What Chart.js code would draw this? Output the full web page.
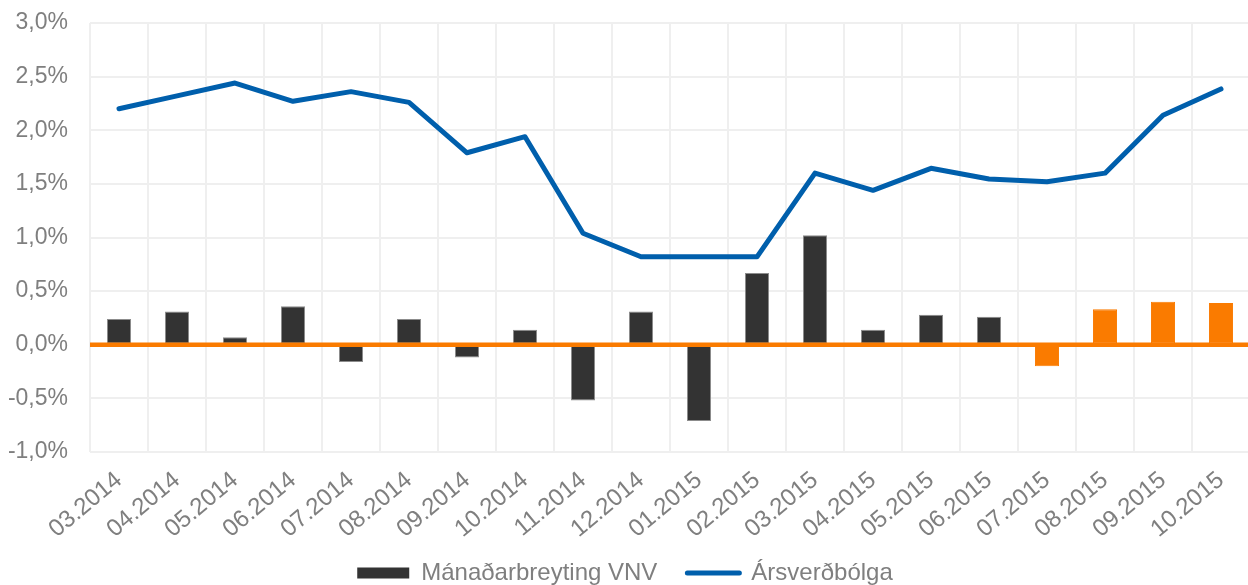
<!DOCTYPE html>
<html>
<head>
<meta charset="utf-8">
<script src="https://cdn.jsdelivr.net/npm/chart.js@4/dist/chart.umd.min.js"></script>
<style>
  html, body { margin: 0; padding: 0; background: #fff; overflow: hidden; }
  #wrap { position: relative; width: 1260px; height: 585px; }
</style>
</head>
<body>
<div id="wrap"><canvas id="inflationChart"></canvas></div>
<script>
// monthly CPI change and 12-month inflation, 03.2014 - 10.2015
const months = ['03.2014', '04.2014', '05.2014', '06.2014', '07.2014', '08.2014', '09.2014',
  '10.2014', '11.2014', '12.2014', '01.2015', '02.2015', '03.2015', '04.2015', '05.2015',
  '06.2015', '07.2015', '08.2015', '09.2015', '10.2015'];
const monthlyChange = [0.24, 0.31, 0.07, 0.36, -0.16, 0.24, -0.12, 0.14, -0.52, 0.31,
  -0.71, 0.67, 1.02, 0.14, 0.28, 0.26, -0.20, 0.33, 0.40, 0.39];
const annualInflation = [2.20, 2.32, 2.44, 2.27, 2.36, 2.26, 1.79, 1.94, 1.04, 0.82,
  0.82, 0.82, 1.60, 1.44, 1.645, 1.545, 1.52, 1.60, 2.14, 2.385];
const highlightedMonths = ['07.2015', '08.2015', '09.2015', '10.2015'];
const yTicks = [-1.0, -0.5, 0.0, 0.5, 1.0, 1.5, 2.0, 2.5, 3.0];
const seriesLabels = ['Mánaðarbreyting VNV', 'Ársverðbólga'];

const DARK = '#333333';
const ORANGE = '#FA7B00';
const BLUE = '#005FAC';
const GREY_TEXT = '#7f7f7f';
const FONT = "'Liberation Sans', Arial, sans-serif";

const isHighlighted = i => highlightedMonths.includes(months[i]);

// orange line at 0%, drawn over the bars
const zeroLine = {
  id: 'zeroLine',
  afterDatasetsDraw(chart) {
    const { ctx, chartArea, scales } = chart;
    const y = scales.y.getPixelForValue(0);
    ctx.save();
    ctx.strokeStyle = ORANGE;
    ctx.lineWidth = 4.5;
    ctx.beginPath();
    ctx.moveTo(chartArea.left, y);
    ctx.lineTo(chartArea.right, y);
    ctx.stroke();
    ctx.restore();
  }
};

const ctx = document.getElementById('inflationChart').getContext('2d');
new Chart(ctx, {
  type: 'bar',
  data: {
    labels: months,
    datasets: [
      {
        type: 'line',
        label: seriesLabels[1],
        data: annualInflation,
        borderColor: BLUE,
        backgroundColor: BLUE,
        borderWidth: 5,
        pointRadius: 0,
        tension: 0,
        borderJoinStyle: 'round',
        borderCapStyle: 'round',
        order: 0
      },
      {
        type: 'bar',
        label: seriesLabels[0],
        data: monthlyChange,
        backgroundColor: c => isHighlighted(c.dataIndex) ? ORANGE : DARK,
        borderColor: c => isHighlighted(c.dataIndex) ? ORANGE : '#8c8c8c',
        borderWidth: 1,
        borderSkipped: false,
        barPercentage: 0.415,
        categoryPercentage: 1,
        order: 1
      }
    ]
  },
  options: {
    responsive: true,
    maintainAspectRatio: false,
    animation: false,
    layout: { padding: { top: 23, right: 10, left: 0, bottom: -10 } },
    plugins: {
      tooltip: { enabled: false },
      legend: {
        position: 'bottom',
        labels: {
          font: { family: FONT, size: 24 },
          color: GREY_TEXT,
          usePointStyle: true,
          pointStyleWidth: 52,
          boxHeight: 11,
          padding: 30,
          generateLabels: chart => [
            { text: seriesLabels[0], pointStyle: 'rect', fillStyle: DARK, strokeStyle: DARK,
              lineWidth: 0, datasetIndex: 1, fontColor: GREY_TEXT },
            { text: seriesLabels[1], pointStyle: 'line', fillStyle: BLUE, strokeStyle: BLUE,
              lineWidth: 5, lineCap: 'round', datasetIndex: 0, fontColor: GREY_TEXT }
          ]
        }
      }
    },
    scales: {
      x: {
        grid: { color: '#efefef', lineWidth: 2, drawTicks: false, offset: true },
        border: { display: false },
        ticks: {
          font: { family: FONT, size: 24 },
          color: GREY_TEXT,
          minRotation: 40,
          maxRotation: 40,
          autoSkip: false,
          padding: 14,
          labelOffset: 0
        },
        afterFit: scale => {
          scale.height = 79;
          // let the slanted labels run past the axis box instead of being cut
          scale._computeLabelArea = () => undefined;
        }
      },
      y: {
        min: yTicks[0],
        max: yTicks[yTicks.length - 1],
        afterBuildTicks: scale => { scale.ticks = yTicks.map(v => ({ value: v })); },
        grid: { color: '#efefef', lineWidth: 2, drawTicks: false },
        border: { display: false },
        ticks: {
          font: { family: FONT, size: 23 },
          color: GREY_TEXT,
          padding: 22,
          callback: v => v.toFixed(1).replace('.', ',') + '%'
        },
        afterFit: scale => {
          scale.width = 90;
          scale.paddingTop = 0;
          scale.paddingBottom = 0;
        }
      }
    }
  },
  plugins: [zeroLine]
});
</script>
</body>
</html>
